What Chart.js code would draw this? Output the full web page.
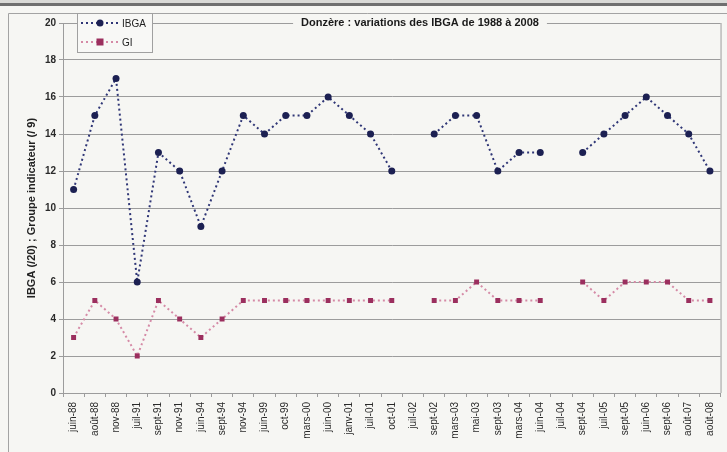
<!DOCTYPE html>
<html>
<head>
<meta charset="utf-8">
<script src="https://cdn.jsdelivr.net/npm/chart.js@4.4.1/dist/chart.umd.min.js"></script>
<style>
  html, body { margin: 0; padding: 0; background: #f6f6f3; }
  #wrap { width: 727px; height: 452px; position: relative; }
</style>
</head>
<body>
<div id="wrap"><canvas id="ibga"></canvas></div>
<script>
const dates = ["juin-88","août-88","nov-88","juil-91","sept-91","nov-91","juin-94","sept-94","nov-94",
  "juin-99","oct-99","mars-00","juin-00","janv-01","juil-01","oct-01","juil-02","sept-02","mars-03",
  "mai-03","sept-03","mars-04","juin-04","juil-04","sept-04","juil-05","sept-05","juin-06","sept-06",
  "août-07","août-08"];
const ibga = [11,15,17,6,13,12,9,12,15,14,15,15,16,15,14,12,null,14,15,15,12,13,13,null,13,14,15,16,15,14,12];
const gi   = [3,5,4,2,5,4,3,4,5,5,5,5,5,5,5,5,null,5,5,6,5,5,5,null,6,5,6,6,6,5,5];
const yTicks = [0,2,4,6,8,10,12,14,16,18,20];

const chartTitle = "Donzère : variations des IBGA de 1988 à 2008";
const yTitle = "IBGA (/20) ; Groupe indicateur (/ 9)";

const BG = "#f6f6f3";
const NAVY = "#1c2052";
const NAVY_LINE = "#2f3676";
const PLUM = "#9b2f5e";
const PINK_LINE = "#d58aa6";
const GRID = "#9c9c9c";
const FONT = "'Liberation Sans', Arial, sans-serif";

// page frame, plot border, title and legend drawn around the chart
const decor = {
  id: "decor",
  beforeDraw(chart) {
    const c = chart.ctx, W = chart.width, H = chart.height;
    c.save();
    c.fillStyle = BG;
    c.fillRect(0, 0, W, H);
    c.fillStyle = "#d9d9d6";
    c.fillRect(0, 0, W, 3);
    c.fillStyle = "#6f6f6f";
    c.fillRect(0, 3, W, 3);
    c.strokeStyle = "#a3a3a3";
    c.lineWidth = 1;
    c.beginPath();
    c.moveTo(8.5, H);
    c.lineTo(8.5, 13.5);
    c.lineTo(W, 13.5);
    c.stroke();
    c.restore();
  },
  afterDraw(chart) {
    const c = chart.ctx, a = chart.chartArea;
    c.save();
    // right edge of the plot
    c.strokeStyle = GRID;
    c.lineWidth = 1;
    c.beginPath();
    c.moveTo(a.right + 0.5, a.top);
    c.lineTo(a.right + 0.5, a.bottom);
    c.stroke();

    // title sitting on the top gridline
    c.font = "bold 11px " + FONT;
    const tw = c.measureText(chartTitle).width;
    const tx = 420, ty = a.top;
    c.fillStyle = BG;
    c.fillRect(tx - tw / 2 - 8, ty - 7, tw + 16, 14);
    c.fillStyle = "#1a1a1a";
    c.textAlign = "center";
    c.textBaseline = "middle";
    c.fillText(chartTitle, tx, ty);

    // legend box
    const lx = 77, ly = 13, lw = 75, lh = 39;
    c.fillStyle = "#f8f8f6";
    c.fillRect(lx, ly, lw, lh);
    c.strokeStyle = "#a0a0a0";
    c.strokeRect(lx + 0.5, ly + 0.5, lw, lh);
    const rows = chart.data.datasets.map((d, i) => ({ d, y: ly + 10 + i * 19 }));
    rows.forEach(({ d, y }) => {
      c.strokeStyle = d.borderColor;
      c.lineWidth = 2;
      c.setLineDash([2, 3]);
      c.beginPath();
      c.moveTo(lx + 4, y);
      c.lineTo(lx + 41, y);
      c.stroke();
      c.setLineDash([]);
      c.fillStyle = d.pointBackgroundColor;
      if (d.pointStyle === "rect") {
        c.fillRect(lx + 19.5, y - 3.5, 7, 7);
      } else {
        c.beginPath();
        c.arc(lx + 23, y, 3.5, 0, Math.PI * 2);
        c.fill();
      }
      c.fillStyle = "#222";
      c.font = "10px " + FONT;
      c.textAlign = "left";
      c.fillText(d.label, lx + 45, y + 1);
    });
    c.restore();
  }
};

new Chart(document.getElementById("ibga"), {
  type: "line",
  data: {
    labels: dates,
    datasets: [
      {
        label: "IBGA",
        data: ibga,
        borderColor: NAVY_LINE,
        borderWidth: 2,
        borderDash: [2, 3],
        pointStyle: "circle",
        pointRadius: 3.5,
        pointBackgroundColor: NAVY,
        pointBorderColor: NAVY,
        pointBorderWidth: 0,
        spanGaps: false,
        tension: 0
      },
      {
        label: "GI",
        data: gi,
        borderColor: PINK_LINE,
        borderWidth: 2,
        borderDash: [2, 3],
        pointStyle: "rect",
        pointRadius: 3.5,
        pointBackgroundColor: PLUM,
        pointBorderColor: PLUM,
        pointBorderWidth: 0,
        spanGaps: false,
        tension: 0
      }
    ]
  },
  options: {
    responsive: true,
    maintainAspectRatio: false,
    animation: false,
    layout: { padding: { left: 24, right: 4, top: 23, bottom: 0 }, autoPadding: false },
    plugins: { legend: { display: false }, title: { display: false }, tooltip: { enabled: false } },
    scales: {
      x: {
        offset: true,
        grid: { offset: true, drawOnChartArea: false, drawTicks: true, tickLength: 4, color: GRID },
        border: { color: GRID },
        ticks: {
          autoSkip: false, maxRotation: 90, minRotation: 90, padding: 5,
          color: "#2a2a2a", font: { family: FONT, size: 10 }
        },
        afterFit(s) { s.height = 59; }
      },
      y: {
        min: 0, max: 20,
        afterBuildTicks(s) { s.ticks = yTicks.map(v => ({ value: v })); },
        grid: { color: GRID, tickLength: 4 },
        border: { color: GRID },
        ticks: { color: "#2a2a2a", padding: 3, font: { family: FONT, size: 10, weight: "bold" } },
        title: {
          display: true, text: yTitle, color: "#222",
          font: { family: FONT, size: 11, weight: "bold" }, padding: { top: 1, bottom: 2 }
        },
        afterFit(s) { s.width = 39; }
      }
    }
  },
  plugins: [decor]
});
</script>
</body>
</html>
